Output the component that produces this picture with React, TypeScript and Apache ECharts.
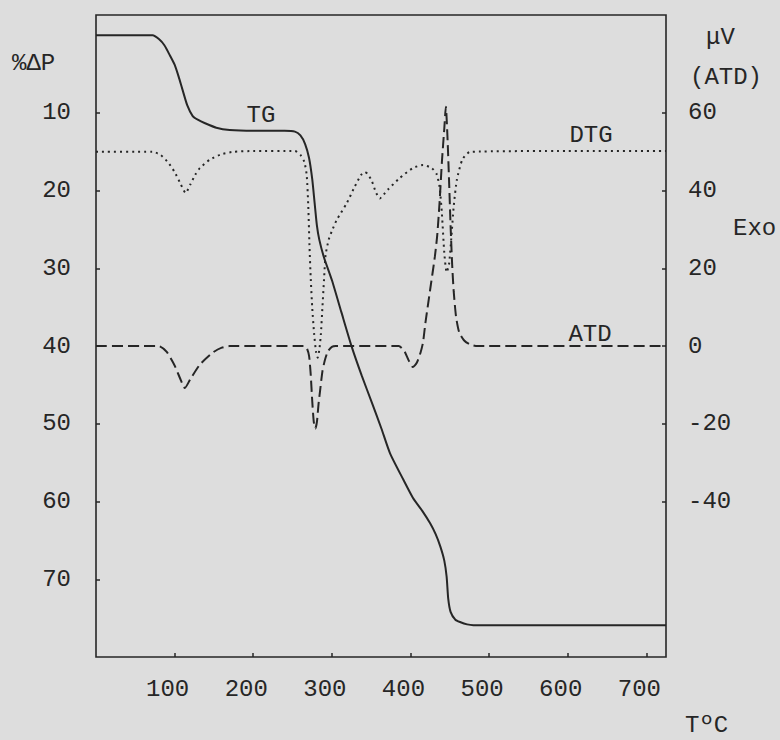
import React, { useEffect, useRef } from "react";
import * as echarts from "echarts";

const xTicks = [100, 200, 300, 400, 500, 600, 700];
const leftTicks = [10, 20, 30, 40, 50, 60, 70];
const rightTicks = [-40, -20, 0, 20, 40, 60];

// TG: % weight loss vs temperature (°C)
const tgData = [
  [0, 0], [72, 0], [80, 0.5], [87, 1.3], [94, 2.6], [100, 3.8], [105, 5.3], [110, 7], [116, 9], [123, 10.4],
  [130, 10.9], [138, 11.3], [153, 11.9], [170, 12.2], [200, 12.3], [240, 12.3], [253, 12.4], [260, 12.9],
  [266, 14.0], [271, 15.8], [275, 18.5], [278, 21.5], [281, 24.5], [284, 26.3], [290, 28.6], [300, 31.5],
  [312, 35.6], [325, 40], [338, 43.8], [351, 47.3], [363, 50.6], [374, 53.8], [391, 57.2], [403, 59.5],
  [415, 61.2], [425, 62.8], [432, 64.2], [438, 65.8], [443, 67.6], [446, 69.7], [448, 72.5], [451, 74.2],
  [457, 75.2], [463, 75.5], [472, 75.8], [480, 75.9], [600, 75.9], [725, 75.9],
];

// DTG: derivative (plotted on the %ΔP scale)
const dtgData = [
  [0, 15], [72, 15], [82, 15.4], [92, 16.4], [100, 17.6], [107, 19], [114, 20.3], [120, 19.2], [126, 18],
  [132, 17.1], [145, 16], [160, 15.3], [175, 15], [200, 14.9], [253, 14.9], [260, 15.4], [265, 16.3],
  [268, 18], [270, 22], [271.5, 27], [273, 31], [275, 35], [277.5, 38.5], [280, 40.8], [282, 41.5],
  [284, 40.5], [286, 38.5], [288, 35], [290, 31.5], [292, 28.3], [296, 26.3], [300, 25.2], [306, 23.8],
  [319, 21.6], [329, 19.5], [337, 18], [342, 17.6], [346, 17.9], [351, 18.8], [356, 20.2], [361, 21],
  [366, 20.5], [371, 19.9], [386, 18.4], [403, 17.1], [416, 16.7], [427, 17.1], [433, 17.8], [437, 19.5],
  [440, 23], [443, 28], [446, 30.5], [449, 29.5], [452, 26], [455, 22], [459, 18.6], [466, 16], [476, 15],
  [600, 14.9], [725, 14.9],
];

// ATD: µV vs temperature
const atdData = [
  [0, 0], [80, 0], [90, -1.5], [100, -5], [108, -8.8], [113, -10.8], [120, -8.5], [132, -4.8], [149, -1.6],
  [160, -0.4], [170, 0], [264, 0], [268, -0.5], [271, -2.5], [273, -7], [275, -14], [277, -19.5],
  [279, -21.2], [281, -19.5], [283, -15], [285, -11.5], [288, -6.5], [291, -3.7], [295, -1.3], [300, -0.2],
  [305, 0], [385, 0], [392, -1.2], [398, -3.8], [403, -5.4], [408, -4.3], [413, -1.5], [416, 1], [419, 6],
  [425, 14.5], [431, 23], [434, 28.5], [437, 37], [440, 47.5], [443, 56], [445, 61.6], [447, 54],
  [449, 43], [451, 31], [453, 21], [455, 14], [458, 7.5], [462, 3.5], [468, 1.5], [475, 0.5], [485, 0],
  [725, 0],
];

const BG = "#dddddd";
const INK = "#262626";
const FONT = '"Liberation Mono", "DejaVu Sans Mono", monospace';
const FS = 24;

export default function App() {
  const ref = useRef<HTMLDivElement>(null);
  useEffect(() => {
    const chart = echarts.init(ref.current!, null, { renderer: "svg" });
    const labelStyle = { color: INK, fontFamily: FONT, fontSize: FS };
    const tickStyle = { inside: true, length: 4, lineStyle: { color: INK, width: 1.5 } };
    const txt = (text: string, x: number, y: number, align = "left") => ({
      type: "text",
      x,
      y,
      style: { text, fill: INK, font: `${FS}px ${FONT}`, textAlign: align, textVerticalAlign: "middle" },
    });
    chart.setOption({
      animation: false,
      backgroundColor: BG,
      textStyle: { fontFamily: FONT },
      grid: {
        left: 96, top: 15, right: 114, bottom: 83,
        show: true, borderColor: INK, borderWidth: 1.6, backgroundColor: "transparent",
      },
      xAxis: {
        type: "value", min: 0, max: 725, position: "bottom",
        axisLine: { show: false, onZero: false }, splitLine: { show: false },
        axisTick: { ...tickStyle, customValues: xTicks },
        axisLabel: { ...labelStyle, customValues: xTicks, margin: 20, padding: [0, 14, 0, 0] },
      },
      yAxis: [
        {
          type: "value", position: "left", inverse: true, min: -2.6, max: 80,
          axisLine: { show: false, onZero: false }, splitLine: { show: false },
          axisTick: { ...tickStyle, customValues: leftTicks },
          axisLabel: { ...labelStyle, customValues: leftTicks, margin: 25 },
        },
        {
          type: "value", position: "right", min: -80, max: 85.2,
          axisLine: { show: false, onZero: false }, splitLine: { show: false },
          axisTick: { ...tickStyle, customValues: rightTicks },
          axisLabel: { ...labelStyle, customValues: rightTicks, margin: 22 },
        },
      ],
      series: [
        {
          name: "TG", type: "line", yAxisIndex: 0, data: tgData, showSymbol: false, smooth: 0.2,
          lineStyle: { color: INK, width: 2 },
        },
        {
          name: "DTG", type: "line", yAxisIndex: 0, data: dtgData, showSymbol: false, smooth: 0.2,
          lineStyle: { color: INK, width: 2, type: [2, 4] },
        },
        {
          name: "ATD", type: "line", yAxisIndex: 1, data: atdData, showSymbol: false, smooth: 0.2,
          lineStyle: { color: INK, width: 2, type: [11, 5] },
        },
      ],
      graphic: [
        txt("%ΔP", 12, 63),
        txt("μV", 706, 37),
        txt("(ATD)", 690, 77),
        txt("Exo", 733, 228),
        txt("TºC", 685, 725),
        txt("TG", 261, 115, "center"),
        txt("DTG", 591, 135, "center"),
        txt("ATD", 590, 334, "center"),
      ],
    });
    return () => chart.dispose();
  }, []);
  return (
    <div
      ref={ref}
      style={{ position: "fixed", left: 0, top: 0, width: 780, height: 740, background: BG }}
    />
  );
}
